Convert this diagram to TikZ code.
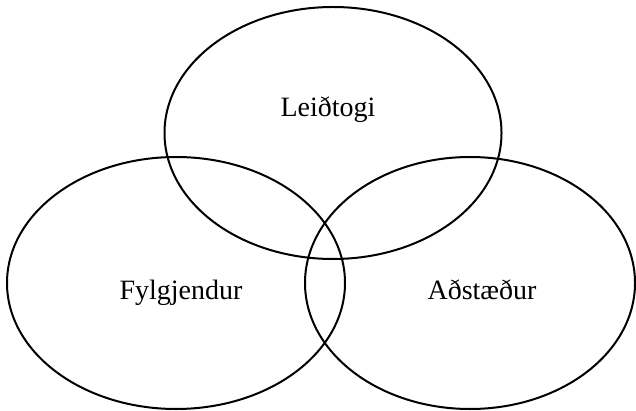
\documentclass[tikz,border=0pt]{standalone}
\usepackage{fontspec}
\setmainfont{Liberation Serif}
\usetikzlibrary{shapes.geometric,positioning}
\tikzset{
  circ/.style={draw,ellipse,line width=2pt,inner sep=0pt,minimum height=252pt},
  lbl/.style={font=\fontsize{28}{30}\selectfont,anchor=base,inner sep=0pt}
}

\begin{document}
\begin{tikzpicture}[x=1pt,y=-1pt]
  \useasboundingbox (0,0) rectangle (636,411);
  \node[circ, minimum width=337pt] (leid) at (333,133) {};
  \node[circ, minimum width=338pt] (fylg) at (176,283) {};
  \node[circ, minimum width=330pt] (adst) at (470,283) {};

  \node[lbl] (leidtxt) at (328,117) {Leiðtogi};
  \node[lbl] (fylgtxt) at (181,299) {Fylgjendur};
  \node[lbl] (adsttxt) at (482,299) {Aðstæður};
\end{tikzpicture}
\end{document}
